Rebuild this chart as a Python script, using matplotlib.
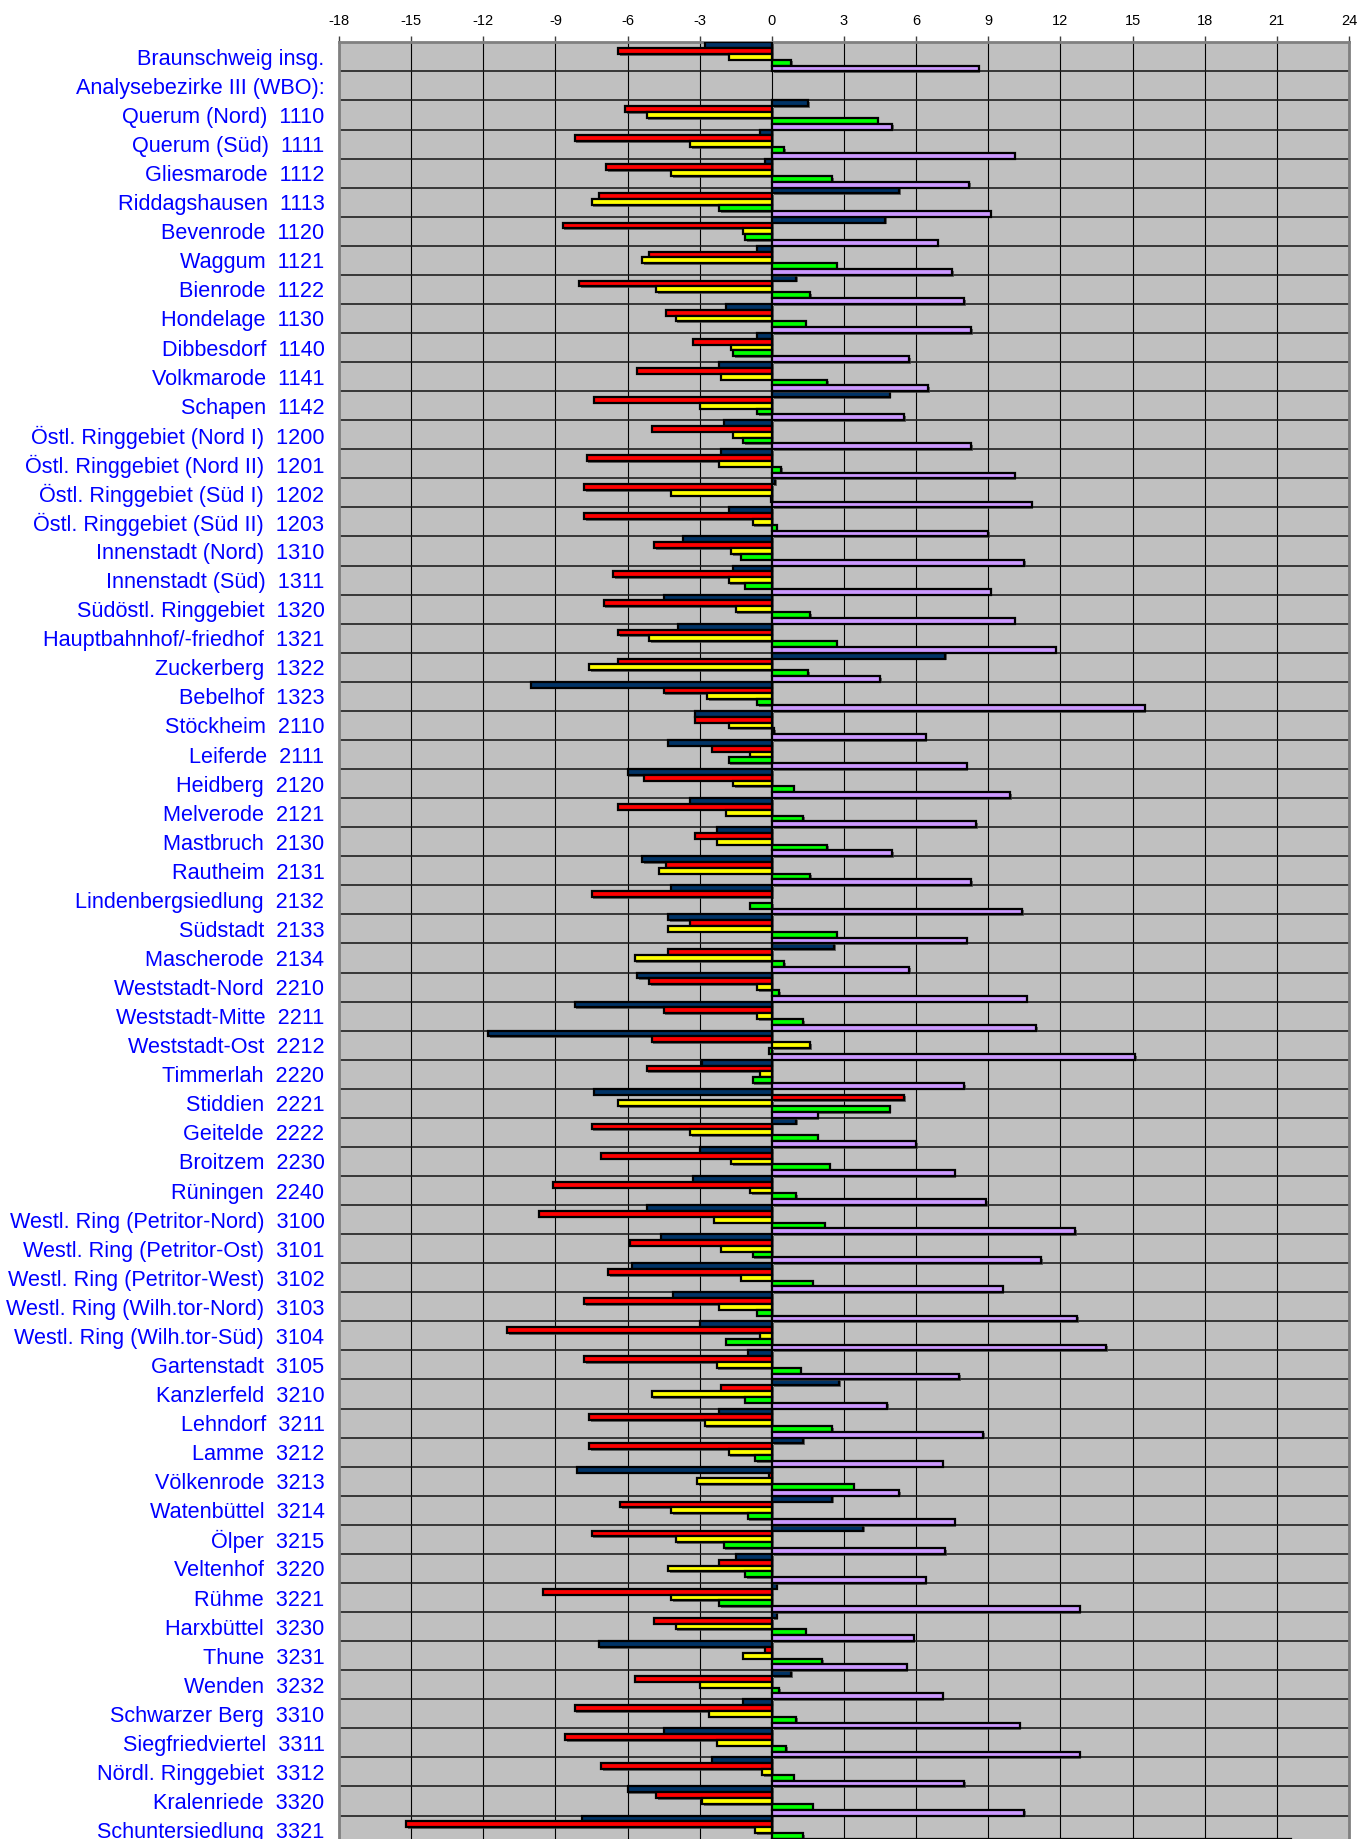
#!/usr/bin/env python3
# -*- coding: utf-8 -*-
"""
Horizontal grouped bar chart of the Braunschweig analysis districts.
"""

import matplotlib
matplotlib.use('Agg')
import matplotlib.pyplot
import matplotlib.patheffects as path_effects
import numpy as np

categories = [
    'Braunschweig insg.', 'Analysebezirke III (WBO):',
    'Querum (Nord)  1110', 'Querum (Süd)  1111', 'Gliesmarode  1112',
    'Riddagshausen  1113', 'Bevenrode  1120', 'Waggum  1121',
    'Bienrode  1122', 'Hondelage  1130', 'Dibbesdorf  1140',
    'Volkmarode  1141', 'Schapen  1142', 'Östl. Ringgebiet (Nord I)  1200',
    'Östl. Ringgebiet (Nord II)  1201', 'Östl. Ringgebiet (Süd I)  1202',
    'Östl. Ringgebiet (Süd II)  1203', 'Innenstadt (Nord)  1310',
    'Innenstadt (Süd)  1311', 'Südöstl. Ringgebiet  1320',
    'Hauptbahnhof/-friedhof  1321', 'Zuckerberg  1322', 'Bebelhof  1323',
    'Stöckheim  2110', 'Leiferde  2111', 'Heidberg  2120',
    'Melverode  2121', 'Mastbruch  2130', 'Rautheim  2131',
    'Lindenbergsiedlung  2132', 'Südstadt  2133', 'Mascherode  2134',
    'Weststadt-Nord  2210', 'Weststadt-Mitte  2211', 'Weststadt-Ost  2212',
    'Timmerlah  2220', 'Stiddien  2221', 'Geitelde  2222',
    'Broitzem  2230', 'Rüningen  2240',
    'Westl. Ring (Petritor-Nord)  3100', 'Westl. Ring (Petritor-Ost)  3101',
    'Westl. Ring (Petritor-West)  3102', 'Westl. Ring (Wilh.tor-Nord)  3103',
    'Westl. Ring (Wilh.tor-Süd)  3104', 'Gartenstadt  3105',
    'Kanzlerfeld  3210', 'Lehndorf  3211', 'Lamme  3212',
    'Völkenrode  3213', 'Watenbüttel  3214', 'Ölper  3215',
    'Veltenhof  3220', 'Rühme  3221', 'Harxbüttel  3230', 'Thune  3231',
    'Wenden  3232', 'Schwarzer Berg  3310', 'Siegfriedviertel  3311',
    'Nördl. Ringgebiet  3312', 'Kralenriede  3320',
    'Schuntersiedlung  3321',
]

series_navy = [
    -2.8, 0, 1.5, -0.5, -0.3, 5.3, 4.7, -0.6, 1.0, -1.9, -0.6, -2.2, 4.9,
    -2.0, -2.1, 0.15, -1.8, -3.7, -1.6, -4.5, -3.9, 7.2, -10.0, -3.2, -4.3,
    -6.0, -3.4, -2.3, -5.4, -4.2, -4.3, 2.6, -5.6, -8.2, -11.8, -2.9, -7.4,
    1.0, -3.0, -3.3, -5.2, -4.6, -5.8, -4.1, -3.0, -1.0, 2.8, -2.2, 1.3,
    -8.1, 2.5, 3.8, -1.5, 0.2, 0.2, -7.2, 0.8, -1.2, -4.5, -2.5, -6.0, -7.9,
]
series_red = [
    -6.4, 0, -6.1, -8.2, -6.9, -7.2, -8.7, -5.1, -8.0, -4.4, -3.3, -5.6,
    -7.4, -5.0, -7.7, -7.8, -7.8, -4.9, -6.6, -7.0, -6.4, -6.4, -4.5, -3.2,
    -2.5, -5.3, -6.4, -3.2, -4.4, -7.5, -3.4, -4.3, -5.1, -4.5, -5.0, -5.2,
    5.5, -7.5, -7.1, -9.1, -9.7, -5.9, -6.8, -7.8, -11.0, -7.8, -2.1, -7.6,
    -7.6, -0.1, -6.3, -7.5, -2.2, -9.5, -4.9, -0.3, -5.7, -8.2, -8.6, -7.1,
    -4.8, -15.2,
]
series_yellow = [
    -1.8, 0, -5.2, -3.4, -4.2, -7.5, -1.2, -5.4, -4.8, -4.0, -1.7, -2.1,
    -3.0, -1.6, -2.2, -4.2, -0.8, -1.7, -1.8, -1.5, -5.1, -7.6, -2.7, -1.8,
    -0.9, -1.6, -1.9, -2.3, -4.7, 0.0, -4.3, -5.7, -0.6, -0.6, 1.6, -0.5,
    -6.4, -3.4, -1.7, -0.9, -2.4, -2.1, -1.3, -2.2, -0.5, -2.3, -5.0, -2.8,
    -1.8, -3.1, -4.2, -4.0, -4.3, -4.2, -4.0, -1.2, -3.0, -2.6, -2.3, -0.4,
    -2.9, -0.7,
]
series_green = [
    0.8, 0, 4.4, 0.5, 2.5, -2.2, -1.1, 2.7, 1.6, 1.4, -1.6, 2.3, -0.6,
    -1.2, 0.4, -0.05, 0.2, -1.3, -1.1, 1.6, 2.7, 1.5, -0.6, 0.1, -1.8, 0.9,
    1.3, 2.3, 1.6, -0.9, 2.7, 0.5, 0.3, 1.3, -0.1, -0.8, 4.9, 1.9, 2.4, 1.0,
    2.2, -0.8, 1.7, -0.6, -1.9, 1.2, -1.1, 2.5, -0.7, 3.4, -1.0, -2.0,
    -1.1, -2.2, 1.4, 2.1, 0.3, 1.0, 0.6, 0.9, 1.7, 1.3,
]
series_purple = [
    8.6, 0, 5.0, 10.1, 8.2, 9.1, 6.9, 7.5, 8.0, 8.3, 5.7, 6.5, 5.5, 8.3,
    10.1, 10.8, 9.0, 10.5, 9.1, 10.1, 11.8, 4.5, 15.5, 6.4, 8.1, 9.9, 8.5,
    5.0, 8.3, 10.4, 8.1, 5.7, 10.6, 11.0, 15.1, 8.0, 1.9, 6.0, 7.6, 8.9,
    12.6, 11.2, 9.6, 12.7, 13.9, 7.8, 4.8, 8.8, 7.1, 5.3, 7.6, 7.2, 6.4,
    12.8, 5.9, 5.6, 7.1, 10.3, 12.8, 8.0, 10.5, 21.6,
]

tick_values = list(range(-18, 25, 3))


def plot_districts(file_out):
    """
    Draws five bars per district, one below the other.
    """
    matplotlib.pyplot.rcParams['font.family'] = ['Liberation Sans', 'DejaVu Sans']
    figure = matplotlib.pyplot.figure(figsize=(13.61, 18.39), dpi=100)
    # the plot area runs a few pixels past the bottom edge, as in the original
    axes = figure.add_axes([339 / 1361, -0.00305, 1010 / 1361, 0.98005])
    axes.set_facecolor('#C0C0C0')

    series = [series_navy, series_red, series_yellow, series_green,
              series_purple]
    colors = ['#003366', '#FF0000', '#FFFF00', '#00FF00', '#CC99FF']
    positions = np.arange(len(categories))
    shadow = [path_effects.SimplePatchShadow(offset=(1.2, -1.2),
                                             shadow_rgbFace='#404040',
                                             alpha=0.7),
              path_effects.Normal()]
    for i, (values, color) in enumerate(zip(series, colors)):
        bars = axes.barh(positions + (i - 2) * 0.2, values, height=0.2,
                         color=color, edgecolor='black', linewidth=1.6,
                         zorder=3)
        for label, bar in zip(categories, bars):
            # the heading row has no data
            if label.startswith('Analyse'):
                bar.set_visible(False)
            bar.set_path_effects(shadow)

    axes.set_xlim(-18, 24)
    axes.set_ylim(len(categories) - 0.5, -0.5)
    axes.set_xticks(tick_values)
    axes.set_xticklabels([str(v) for v in tick_values], fontsize=10.5)
    axes.xaxis.tick_top()
    axes.tick_params(axis='x', length=4, width=1, color='#404040', pad=6.5)
    axes.set_yticks(positions)
    axes.set_yticklabels(categories, fontsize=15.6, color='#0000FF')
    axes.tick_params(axis='y', length=0, pad=10.5)
    axes.set_yticks(positions[:-1] + 0.5, minor=True)
    axes.tick_params(axis='y', which='minor', length=0)

    axes.grid(axis='x', which='major', color='black', linewidth=0.8, zorder=1)
    axes.grid(axis='y', which='minor', color='#202020', linewidth=1.2, zorder=1)
    axes.set_axisbelow(True)
    for name in ['left', 'right', 'top', 'bottom']:
        axes.spines[name].set_color('#808080')
        axes.spines[name].set_linewidth(2)

    figure.savefig(file_out, dpi=100)
    matplotlib.pyplot.close()


if __name__ == '__main__':
    plot_districts('out.png')
